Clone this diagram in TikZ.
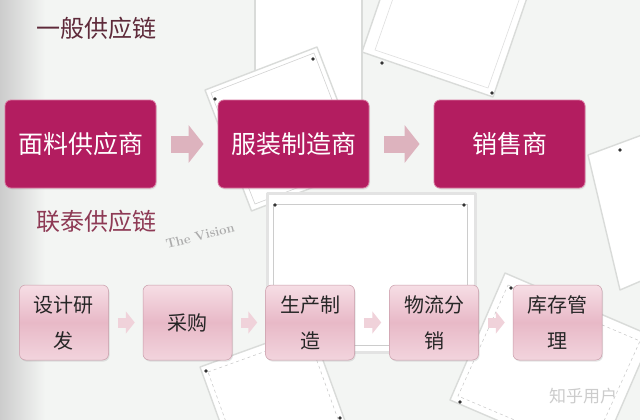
\documentclass[tikz,border=0pt]{standalone}
\usepackage{fontspec}
\newfontfamily\cjk{Noto Sans CJK SC}
\usetikzlibrary{arrows.meta,shadows}
\definecolor{bgc}{HTML}{F3F5F3}
\definecolor{topfill}{HTML}{B31D60}
\definecolor{topedge}{HTML}{D9759F}
\definecolor{toparrow}{HTML}{DDB3BE}
\definecolor{boxtop}{HTML}{F6DEE5}
\definecolor{boxmid}{HTML}{E8B9C7}
\definecolor{boxbot}{HTML}{F2D4DD}
\definecolor{boxline}{HTML}{C89CA9}
\definecolor{smallarrow}{HTML}{F0D2DA}
\definecolor{titleA}{HTML}{5E2A3A}
\definecolor{titleB}{HTML}{8E3A55}
\definecolor{paperline}{HTML}{D9DBD9}
\begin{document}
\begin{tikzpicture}[x=1pt,y=-1pt,
  paper/.style={fill=white, draw=paperline, line width=1.4pt, line join=round},
  paperin/.style={draw=gray!45, line width=0.5pt, dashed},
  pin/.style={fill=black!80},
  topbox/.style={rectangle, rounded corners=6pt, minimum width=151pt, minimum height=88pt,
    inner sep=0pt, fill=topfill, draw=topedge, line width=0.8pt, text=white,
    font=\cjk\fontsize{25}{30}\selectfont,
    drop shadow={opacity=0.15, shadow xshift=1pt, shadow yshift=-1.5pt}},
  lowbox/.style={rectangle, rounded corners=6pt, minimum width=89pt, minimum height=75pt,
    inner sep=0pt, top color=boxtop, bottom color=boxbot, middle color=boxmid,
    draw=boxline, line width=0.5pt, text=black!85, align=center,
    font=\cjk\fontsize{20}{36}\selectfont,
    drop shadow={opacity=0.2, shadow xshift=1pt, shadow yshift=-1.5pt}},
  bigarrow/.style={draw=toparrow, line width=17pt, -{Triangle[length=15pt,width=37pt]},
    shorten <=15pt, shorten >=14pt},
  smallarr/.style={draw=smallarrow, line width=10pt, -{Triangle[length=9pt,width=22pt]},
    shorten <=9pt, shorten >=8pt},
  title/.style={font=\cjk\fontsize{24}{24}\selectfont, inner sep=0pt}
]
\useasboundingbox (0,0) rectangle (640,420);
% background
\fill[bgc] (0,0) rectangle (640,420);
\shade[left color=gray!40, right color=bgc] (0,0) rectangle (45,420);

% papers (background)
\draw[paper] (255,-5) rectangle (362,120);
\draw[paper] (410.7,-90) -- (541.7,-45) -- (493,97) -- (362,52) -- cycle;
\draw[draw=gray!25, line width=0.6pt] (417,-70) -- (530,-31) -- (488,88) -- (375,50) -- cycle;
\fill[pin] (382,63) circle (1.8);
\fill[pin] (492,93) circle (1.8);
\draw[paper] (205,90) -- (317,47) -- (363.5,168) -- (251.5,211) -- cycle;
\draw[draw=gray!35, line width=0.6pt] (211,93) -- (314,53) -- (357,165) -- (255,204) -- cycle;
\fill[pin] (215,99) circle (1.8);
\fill[pin] (313,59) circle (1.8);
\draw[paper] (588,155) -- (650,132) -- (690,260) -- (620,290) -- cycle;
\fill[pin] (620,150) circle (1.8);
\draw[paper] (505,273) -- (652,336) -- (597,463) -- (450,400) -- cycle;
\draw[paperin] (508,285) -- (640,341) -- (590,452) -- (458,396) -- cycle;
\fill[pin] (511,288) circle (1.8);
\fill[pin] (460,402) circle (1.8);
\draw[paper] (200,367) -- (311,327) -- (362,468) -- (251,508) -- cycle;
\draw[paperin] (208,372) -- (308,336) -- (352,458) -- (252,494) -- cycle;
\fill[pin] (206,371) circle (1.8);
\fill[pin] (340,418) circle (1.8);
\draw[paper, draw=gray!22, line width=3pt] (267,193) rectangle (475,352);
\draw[draw=gray!40, line width=0.6pt] (273,204) rectangle (467,345);
\fill[pin] (275,205) circle (1.8);
\fill[pin] (464,205) circle (1.8);

% titles
\node[title, text=titleA] (t1) at (96,28) {一般供应链};
\node[title, text=titleB] (t2) at (96,221) {联泰供应链};
\node[rotate=14, text=gray!65, font=\bfseries\fontsize{13}{13}\selectfont, inner sep=0pt]
  (tv) at (200,236) {The Vision};

% top row
\node[topbox] (s1) at (80.5,144) {面料供应商};
\node[topbox] (s2) at (293.5,144) {服装制造商};
\node[topbox] (s3) at (509.5,144) {销售商};
\draw[bigarrow] (s1) -- (s2);
\draw[bigarrow] (s2) -- (s3);

% bottom row
\node[lowbox] (b1) at (64,322.5) {设计研\\发};
\node[lowbox] (b2) at (187.5,322.5) {采购};
\node[lowbox] (b3) at (310,322.5) {生产制\\造};
\node[lowbox] (b4) at (434,322.5) {物流分\\销};
\node[lowbox] (b5) at (557.5,322.5) {库存管\\理};
\draw[smallarr] (b1) -- (b2);
\draw[smallarr] (b2) -- (b3);
\draw[smallarr] (b3) -- (b4);
\draw[smallarr] (b4) -- (b5);

% watermark
\node[text=gray!40, font=\cjk\fontsize{17}{17}\selectfont, inner sep=0pt] (wm) at (583,396) {知乎用户};
\end{tikzpicture}
\end{document}
